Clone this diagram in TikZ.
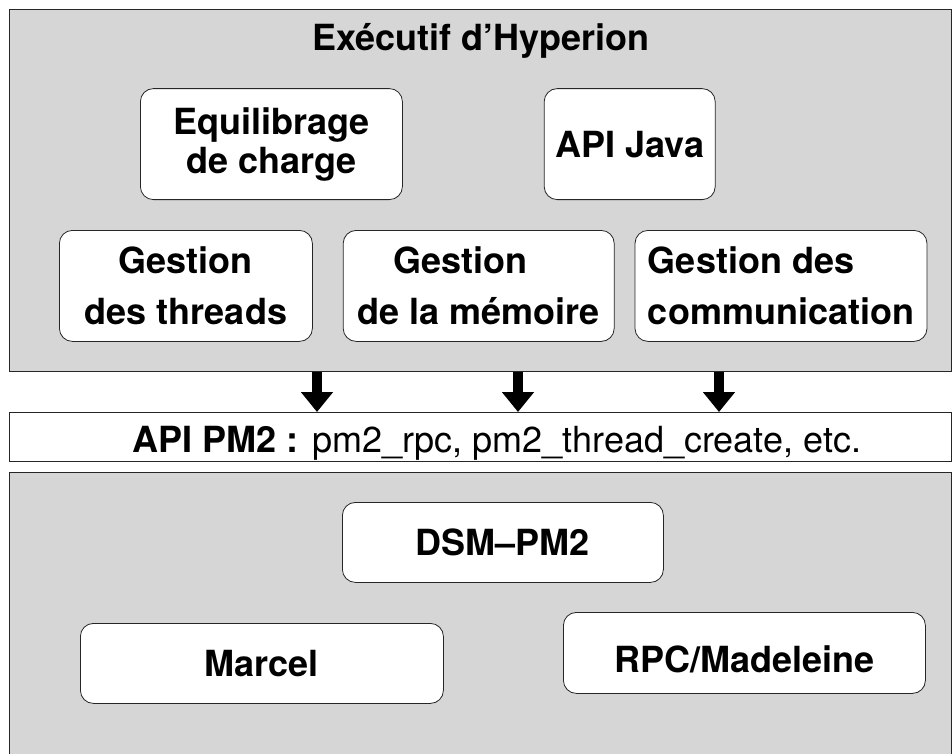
\documentclass[tikz,border=0pt]{standalone}
\usepackage{fontspec}
\setmainfont{TeX Gyre Heros}
\usepackage{xcolor}
\usetikzlibrary{arrows.meta, positioning}
\definecolor{fond}{HTML}{D6D6D6}

\tikzset{
  couche/.style={draw=black!85, line width=0.8pt, fill=fond, inner sep=0pt},
  bloc/.style={draw=black!85, line width=0.8pt, fill=white, rounded corners=13pt,
    align=center, inner sep=0pt, minimum height=111pt,
    font=\fontsize{36}{39}\selectfont\bfseries},
  texte/.style={anchor=base, font=\fontsize{36}{39}\selectfont},
  fleche/.style={line width=10pt, -{Triangle[length=20pt,width=31pt]}},
}

\begin{document}
\begin{tikzpicture}[x=1pt,y=1pt]
\useasboundingbox (0,0) rectangle (952,-753);

\node[couche, anchor=north west, minimum width=942pt, minimum height=362pt] (exec) at (9,-9) {};
\node[couche, anchor=north west, minimum width=942pt, minimum height=300pt] (noyau) at (9,-472) {};
\node[couche, fill=white, anchor=north west, minimum width=942pt, minimum height=49pt] (api) at (9,-412) {};

\node[texte, font=\fontsize{36}{39}\selectfont\bfseries] (titre) at (481,-50) {Exécutif d’Hyperion};
\node[texte] (apitxt) at (497,-452) {\textbf{API PM2 :} pm2\_rpc, pm2\_thread\_create, etc.};

\node[bloc, minimum width=253pt, anchor=north west] (threads) at (59,-230) {Gestion\\[12pt]des threads};
\node[bloc, minimum width=271pt, right=30pt of threads] (memoire) {Gestion\kern36pt\\[12pt]de la mémoire};
\node[bloc, minimum width=292pt, align=left, right=20pt of memoire] (comm) {Gestion des\\[12pt]communication};
\node[bloc, minimum width=262pt, above right=30pt and 81pt of threads.north west] (equil) {Equilibrage\\de charge};
\node[bloc, minimum width=171pt, right=141pt of equil] (java) {API Java};

\node[bloc, minimum width=321pt, minimum height=80pt, anchor=north west] (dsm) at (342,-502) {DSM–PM2};
\node[bloc, minimum width=363pt, minimum height=80pt, anchor=north west] (marcel) at (80,-623) {Marcel};
\node[bloc, minimum width=362pt, minimum height=81pt, text height=40pt, text depth=0pt, anchor=north west] (rpc) at (563,-612) {RPC/Madeleine};

\foreach \x in {317,518,719}
  \draw[fleche] (exec.south -| \x,0) -- (api.north -| \x,0);
\end{tikzpicture}
\end{document}
